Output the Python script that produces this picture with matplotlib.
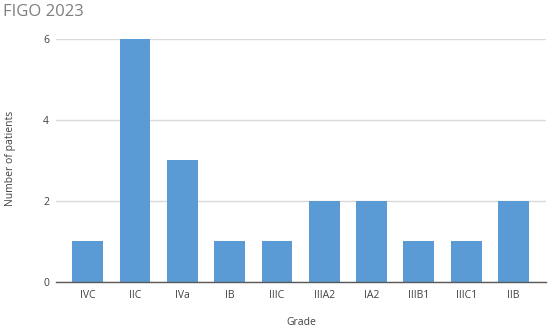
import matplotlib.pyplot as plt

# Data
grades = ["IVC", "IIC", "IVa", "IB", "IIIC", "IIIA2", "IA2", "IIIB1", "IIIC1", "IIB"]
patients = [1, 6, 3, 1, 1, 2, 2, 1, 1, 2]
yticks = [0, 2, 4, 6]

plt.rcParams['font.family'] = ['Open Sans', 'DejaVu Sans']

fig = plt.figure(figsize=(5.5, 3.3), dpi=100)
ax = fig.add_axes([0.102, 0.1455, 0.891, 0.7365])

x = list(range(len(grades)))
ax.bar(x, patients, width=0.65, color="#5B9BD5", zorder=3)

ax.set_xlim(-0.666, 9.69)
ax.set_ylim(0, 6)
ax.set_yticks(yticks)
ax.set_xticks(x)
ax.set_xticklabels(grades)
ax.yaxis.grid(True, color="#D9D9D9", linewidth=1, zorder=0)
ax.tick_params(axis='both', length=0, labelsize=7.5, colors="#404040")
ax.tick_params(axis='x', pad=6)
ax.tick_params(axis='y', pad=5)

for s in ["top", "right", "left"]:
    ax.spines[s].set_visible(False)
ax.spines["bottom"].set_color("#595959")
ax.spines["bottom"].set_linewidth(1)
ax.spines["bottom"].set_zorder(4)

fig.text(0.006, 0.963, "FIGO 2023", fontsize=12, color="#7F7F7F", va="center", ha="left")
fig.text(0.02, 0.52, "Number of patients", rotation=90, fontsize=7.5, color="#404040",
         va="center", ha="center")
fig.text(0.547, 0.022, "Grade", fontsize=7.5, color="#404040", va="center", ha="center")

fig.savefig("out.png", dpi=100)
